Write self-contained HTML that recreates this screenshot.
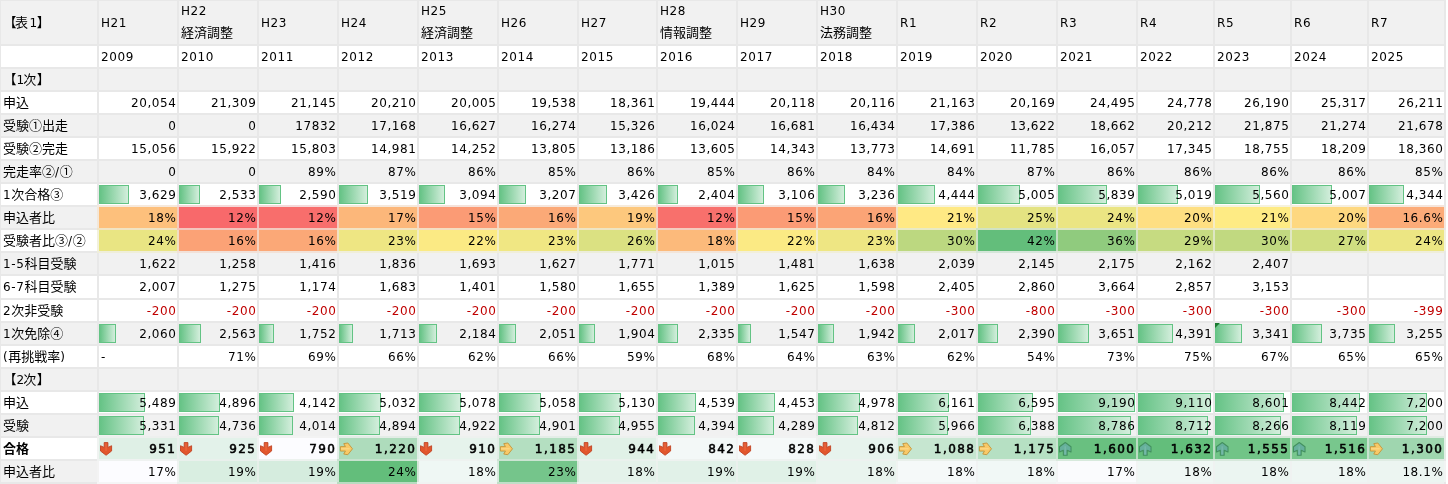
<!DOCTYPE html>
<html lang="ja"><head><meta charset="utf-8"><title>表1</title>
<style>
html,body{margin:0;padding:0;}
body{will-change:transform;width:1448px;height:484px;overflow:hidden;background:#e8e8e8;position:relative;
 font-family:"Liberation Sans","Noto Sans CJK JP",sans-serif;font-size:13px;color:#000;}
.c{position:absolute;overflow:hidden;white-space:nowrap;box-sizing:border-box;}
.g{background:#f1f1f1}.w{background:#fff}
.t{position:absolute;left:0;right:0;white-space:nowrap;line-height:16px;}
.r{text-align:right;padding-right:0.5px;}
.lft{text-align:left;padding-left:2px;}
.l,.n{font-size:12px;letter-spacing:0.6px;font-family:"DejaVu Sans","Liberation Sans",sans-serif;}
.b{font-weight:bold;}
.n.b{font-weight:normal;-webkit-text-stroke:0.55px #000;letter-spacing:1.45px;padding-right:0.6px;}
.bar{position:absolute;box-sizing:border-box;border:1px solid #63c384;background:linear-gradient(90deg,#66c386 0%,#d3eedc 100%);}
.ic{position:absolute;left:0;top:0;}
.tri{position:absolute;left:0;top:0;width:0;height:0;border-top:5px solid #1a7a30;border-right:5px solid transparent;}
</style></head><body>

<div class="c g" style="left:1px;top:1px;width:96px;height:43px"><div class="t lft" style="top:14px;padding-left:2.5px">【<span style="margin-left:-1.5px">表</span><span class="l" style="margin-left:1.5px">1</span><span style="margin-left:-1px">】</span></div></div>
<div class="c g" style="left:99px;top:1px;width:78px;height:43px"><div class="t lft" style="top:14px"><span class="l">H21</span></div></div>
<div class="c g" style="left:179px;top:1px;width:78px;height:43px"><div class="t lft" style="top:2px"><span class="l">H22</span></div><div class="t lft" style="top:24px">経済調整</div></div>
<div class="c g" style="left:259px;top:1px;width:78px;height:43px"><div class="t lft" style="top:14px"><span class="l">H23</span></div></div>
<div class="c g" style="left:339px;top:1px;width:78px;height:43px"><div class="t lft" style="top:14px"><span class="l">H24</span></div></div>
<div class="c g" style="left:419px;top:1px;width:78px;height:43px"><div class="t lft" style="top:2px"><span class="l">H25</span></div><div class="t lft" style="top:24px">経済調整</div></div>
<div class="c g" style="left:499px;top:1px;width:78px;height:43px"><div class="t lft" style="top:14px"><span class="l">H26</span></div></div>
<div class="c g" style="left:579px;top:1px;width:77px;height:43px"><div class="t lft" style="top:14px"><span class="l">H27</span></div></div>
<div class="c g" style="left:658px;top:1px;width:78px;height:43px"><div class="t lft" style="top:2px"><span class="l">H28</span></div><div class="t lft" style="top:24px">情報調整</div></div>
<div class="c g" style="left:738px;top:1px;width:78px;height:43px"><div class="t lft" style="top:14px"><span class="l">H29</span></div></div>
<div class="c g" style="left:818px;top:1px;width:78px;height:43px"><div class="t lft" style="top:2px"><span class="l">H30</span></div><div class="t lft" style="top:24px">法務調整</div></div>
<div class="c g" style="left:898px;top:1px;width:78px;height:43px"><div class="t lft" style="top:14px"><span class="l">R1</span></div></div>
<div class="c g" style="left:978px;top:1px;width:78px;height:43px"><div class="t lft" style="top:14px"><span class="l">R2</span></div></div>
<div class="c g" style="left:1058px;top:1px;width:78px;height:43px"><div class="t lft" style="top:14px"><span class="l">R3</span></div></div>
<div class="c g" style="left:1138px;top:1px;width:75px;height:43px"><div class="t lft" style="top:14px"><span class="l">R4</span></div></div>
<div class="c g" style="left:1215px;top:1px;width:75px;height:43px"><div class="t lft" style="top:14px"><span class="l">R5</span></div></div>
<div class="c g" style="left:1292px;top:1px;width:75px;height:43px"><div class="t lft" style="top:14px"><span class="l">R6</span></div></div>
<div class="c g" style="left:1369px;top:1px;width:75px;height:43px"><div class="t lft" style="top:14px"><span class="l">R7</span></div></div>
<div class="c w" style="left:1px;top:46px;width:96px;height:21px"><div class="t lft" style="top:3px;padding-left:2px"></div></div>
<div class="c w" style="left:99px;top:46px;width:78px;height:21px"><div class="t lft n" style="top:3px">2009</div></div>
<div class="c w" style="left:179px;top:46px;width:78px;height:21px"><div class="t lft n" style="top:3px">2010</div></div>
<div class="c w" style="left:259px;top:46px;width:78px;height:21px"><div class="t lft n" style="top:3px">2011</div></div>
<div class="c w" style="left:339px;top:46px;width:78px;height:21px"><div class="t lft n" style="top:3px">2012</div></div>
<div class="c w" style="left:419px;top:46px;width:78px;height:21px"><div class="t lft n" style="top:3px">2013</div></div>
<div class="c w" style="left:499px;top:46px;width:78px;height:21px"><div class="t lft n" style="top:3px">2014</div></div>
<div class="c w" style="left:579px;top:46px;width:77px;height:21px"><div class="t lft n" style="top:3px">2015</div></div>
<div class="c w" style="left:658px;top:46px;width:78px;height:21px"><div class="t lft n" style="top:3px">2016</div></div>
<div class="c w" style="left:738px;top:46px;width:78px;height:21px"><div class="t lft n" style="top:3px">2017</div></div>
<div class="c w" style="left:818px;top:46px;width:78px;height:21px"><div class="t lft n" style="top:3px">2018</div></div>
<div class="c w" style="left:898px;top:46px;width:78px;height:21px"><div class="t lft n" style="top:3px">2019</div></div>
<div class="c w" style="left:978px;top:46px;width:78px;height:21px"><div class="t lft n" style="top:3px">2020</div></div>
<div class="c w" style="left:1058px;top:46px;width:78px;height:21px"><div class="t lft n" style="top:3px">2021</div></div>
<div class="c w" style="left:1138px;top:46px;width:75px;height:21px"><div class="t lft n" style="top:3px">2022</div></div>
<div class="c w" style="left:1215px;top:46px;width:75px;height:21px"><div class="t lft n" style="top:3px">2023</div></div>
<div class="c w" style="left:1292px;top:46px;width:75px;height:21px"><div class="t lft n" style="top:3px">2024</div></div>
<div class="c w" style="left:1369px;top:46px;width:75px;height:21px"><div class="t lft n" style="top:3px">2025</div></div>
<div class="c g" style="left:1px;top:69px;width:96px;height:21px"><div class="t lft" style="top:3px;padding-left:2.5px">【<span class="l">1</span><span style="margin-left:-1.5px">次</span><span style="margin-left:0.5px">】</span></div></div>
<div class="c g" style="left:99px;top:69px;width:78px;height:21px"></div>
<div class="c g" style="left:179px;top:69px;width:78px;height:21px"></div>
<div class="c g" style="left:259px;top:69px;width:78px;height:21px"></div>
<div class="c g" style="left:339px;top:69px;width:78px;height:21px"></div>
<div class="c g" style="left:419px;top:69px;width:78px;height:21px"></div>
<div class="c g" style="left:499px;top:69px;width:78px;height:21px"></div>
<div class="c g" style="left:579px;top:69px;width:77px;height:21px"></div>
<div class="c g" style="left:658px;top:69px;width:78px;height:21px"></div>
<div class="c g" style="left:738px;top:69px;width:78px;height:21px"></div>
<div class="c g" style="left:818px;top:69px;width:78px;height:21px"></div>
<div class="c g" style="left:898px;top:69px;width:78px;height:21px"></div>
<div class="c g" style="left:978px;top:69px;width:78px;height:21px"></div>
<div class="c g" style="left:1058px;top:69px;width:78px;height:21px"></div>
<div class="c g" style="left:1138px;top:69px;width:75px;height:21px"></div>
<div class="c g" style="left:1215px;top:69px;width:75px;height:21px"></div>
<div class="c g" style="left:1292px;top:69px;width:75px;height:21px"></div>
<div class="c g" style="left:1369px;top:69px;width:75px;height:21px"></div>
<div class="c w" style="left:1px;top:92px;width:96px;height:21px"><div class="t lft" style="top:3px;padding-left:2px">申込</div></div>
<div class="c w" style="left:99px;top:92px;width:78px;height:21px"><div class="t r n" style="top:3px">20,054</div></div>
<div class="c w" style="left:179px;top:92px;width:78px;height:21px"><div class="t r n" style="top:3px">21,309</div></div>
<div class="c w" style="left:259px;top:92px;width:78px;height:21px"><div class="t r n" style="top:3px">21,145</div></div>
<div class="c w" style="left:339px;top:92px;width:78px;height:21px"><div class="t r n" style="top:3px">20,210</div></div>
<div class="c w" style="left:419px;top:92px;width:78px;height:21px"><div class="t r n" style="top:3px">20,005</div></div>
<div class="c w" style="left:499px;top:92px;width:78px;height:21px"><div class="t r n" style="top:3px">19,538</div></div>
<div class="c w" style="left:579px;top:92px;width:77px;height:21px"><div class="t r n" style="top:3px">18,361</div></div>
<div class="c w" style="left:658px;top:92px;width:78px;height:21px"><div class="t r n" style="top:3px">19,444</div></div>
<div class="c w" style="left:738px;top:92px;width:78px;height:21px"><div class="t r n" style="top:3px">20,118</div></div>
<div class="c w" style="left:818px;top:92px;width:78px;height:21px"><div class="t r n" style="top:3px">20,116</div></div>
<div class="c w" style="left:898px;top:92px;width:78px;height:21px"><div class="t r n" style="top:3px">21,163</div></div>
<div class="c w" style="left:978px;top:92px;width:78px;height:21px"><div class="t r n" style="top:3px">20,169</div></div>
<div class="c w" style="left:1058px;top:92px;width:78px;height:21px"><div class="t r n" style="top:3px">24,495</div></div>
<div class="c w" style="left:1138px;top:92px;width:75px;height:21px"><div class="t r n" style="top:3px">24,778</div></div>
<div class="c w" style="left:1215px;top:92px;width:75px;height:21px"><div class="t r n" style="top:3px">26,190</div></div>
<div class="c w" style="left:1292px;top:92px;width:75px;height:21px"><div class="t r n" style="top:3px">25,317</div></div>
<div class="c w" style="left:1369px;top:92px;width:75px;height:21px"><div class="t r n" style="top:3px">26,211</div></div>
<div class="c g" style="left:1px;top:115px;width:96px;height:21px"><div class="t lft" style="top:3px;padding-left:2px">受験①出走</div></div>
<div class="c g" style="left:99px;top:115px;width:78px;height:21px"><div class="t r n" style="top:3px">0</div></div>
<div class="c g" style="left:179px;top:115px;width:78px;height:21px"><div class="t r n" style="top:3px">0</div></div>
<div class="c g" style="left:259px;top:115px;width:78px;height:21px"><div class="t r n" style="top:3px">17832</div></div>
<div class="c g" style="left:339px;top:115px;width:78px;height:21px"><div class="t r n" style="top:3px">17,168</div></div>
<div class="c g" style="left:419px;top:115px;width:78px;height:21px"><div class="t r n" style="top:3px">16,627</div></div>
<div class="c g" style="left:499px;top:115px;width:78px;height:21px"><div class="t r n" style="top:3px">16,274</div></div>
<div class="c g" style="left:579px;top:115px;width:77px;height:21px"><div class="t r n" style="top:3px">15,326</div></div>
<div class="c g" style="left:658px;top:115px;width:78px;height:21px"><div class="t r n" style="top:3px">16,024</div></div>
<div class="c g" style="left:738px;top:115px;width:78px;height:21px"><div class="t r n" style="top:3px">16,681</div></div>
<div class="c g" style="left:818px;top:115px;width:78px;height:21px"><div class="t r n" style="top:3px">16,434</div></div>
<div class="c g" style="left:898px;top:115px;width:78px;height:21px"><div class="t r n" style="top:3px">17,386</div></div>
<div class="c g" style="left:978px;top:115px;width:78px;height:21px"><div class="t r n" style="top:3px">13,622</div></div>
<div class="c g" style="left:1058px;top:115px;width:78px;height:21px"><div class="t r n" style="top:3px">18,662</div></div>
<div class="c g" style="left:1138px;top:115px;width:75px;height:21px"><div class="t r n" style="top:3px">20,212</div></div>
<div class="c g" style="left:1215px;top:115px;width:75px;height:21px"><div class="t r n" style="top:3px">21,875</div></div>
<div class="c g" style="left:1292px;top:115px;width:75px;height:21px"><div class="t r n" style="top:3px">21,274</div></div>
<div class="c g" style="left:1369px;top:115px;width:75px;height:21px"><div class="t r n" style="top:3px">21,678</div></div>
<div class="c w" style="left:1px;top:138px;width:96px;height:21px"><div class="t lft" style="top:3px;padding-left:2px">受験②完走</div></div>
<div class="c w" style="left:99px;top:138px;width:78px;height:21px"><div class="t r n" style="top:3px">15,056</div></div>
<div class="c w" style="left:179px;top:138px;width:78px;height:21px"><div class="t r n" style="top:3px">15,922</div></div>
<div class="c w" style="left:259px;top:138px;width:78px;height:21px"><div class="t r n" style="top:3px">15,803</div></div>
<div class="c w" style="left:339px;top:138px;width:78px;height:21px"><div class="t r n" style="top:3px">14,981</div></div>
<div class="c w" style="left:419px;top:138px;width:78px;height:21px"><div class="t r n" style="top:3px">14,252</div></div>
<div class="c w" style="left:499px;top:138px;width:78px;height:21px"><div class="t r n" style="top:3px">13,805</div></div>
<div class="c w" style="left:579px;top:138px;width:77px;height:21px"><div class="t r n" style="top:3px">13,186</div></div>
<div class="c w" style="left:658px;top:138px;width:78px;height:21px"><div class="t r n" style="top:3px">13,605</div></div>
<div class="c w" style="left:738px;top:138px;width:78px;height:21px"><div class="t r n" style="top:3px">14,343</div></div>
<div class="c w" style="left:818px;top:138px;width:78px;height:21px"><div class="t r n" style="top:3px">13,773</div></div>
<div class="c w" style="left:898px;top:138px;width:78px;height:21px"><div class="t r n" style="top:3px">14,691</div></div>
<div class="c w" style="left:978px;top:138px;width:78px;height:21px"><div class="t r n" style="top:3px">11,785</div></div>
<div class="c w" style="left:1058px;top:138px;width:78px;height:21px"><div class="t r n" style="top:3px">16,057</div></div>
<div class="c w" style="left:1138px;top:138px;width:75px;height:21px"><div class="t r n" style="top:3px">17,345</div></div>
<div class="c w" style="left:1215px;top:138px;width:75px;height:21px"><div class="t r n" style="top:3px">18,755</div></div>
<div class="c w" style="left:1292px;top:138px;width:75px;height:21px"><div class="t r n" style="top:3px">18,209</div></div>
<div class="c w" style="left:1369px;top:138px;width:75px;height:21px"><div class="t r n" style="top:3px">18,360</div></div>
<div class="c g" style="left:1px;top:161px;width:96px;height:21px"><div class="t lft" style="top:3px;padding-left:2px">完走率②<span class="l">/</span>①</div></div>
<div class="c g" style="left:99px;top:161px;width:78px;height:21px"><div class="t r n" style="top:3px">0</div></div>
<div class="c g" style="left:179px;top:161px;width:78px;height:21px"><div class="t r n" style="top:3px">0</div></div>
<div class="c g" style="left:259px;top:161px;width:78px;height:21px"><div class="t r n" style="top:3px">89%</div></div>
<div class="c g" style="left:339px;top:161px;width:78px;height:21px"><div class="t r n" style="top:3px">87%</div></div>
<div class="c g" style="left:419px;top:161px;width:78px;height:21px"><div class="t r n" style="top:3px">86%</div></div>
<div class="c g" style="left:499px;top:161px;width:78px;height:21px"><div class="t r n" style="top:3px">85%</div></div>
<div class="c g" style="left:579px;top:161px;width:77px;height:21px"><div class="t r n" style="top:3px">86%</div></div>
<div class="c g" style="left:658px;top:161px;width:78px;height:21px"><div class="t r n" style="top:3px">85%</div></div>
<div class="c g" style="left:738px;top:161px;width:78px;height:21px"><div class="t r n" style="top:3px">86%</div></div>
<div class="c g" style="left:818px;top:161px;width:78px;height:21px"><div class="t r n" style="top:3px">84%</div></div>
<div class="c g" style="left:898px;top:161px;width:78px;height:21px"><div class="t r n" style="top:3px">84%</div></div>
<div class="c g" style="left:978px;top:161px;width:78px;height:21px"><div class="t r n" style="top:3px">87%</div></div>
<div class="c g" style="left:1058px;top:161px;width:78px;height:21px"><div class="t r n" style="top:3px">86%</div></div>
<div class="c g" style="left:1138px;top:161px;width:75px;height:21px"><div class="t r n" style="top:3px">86%</div></div>
<div class="c g" style="left:1215px;top:161px;width:75px;height:21px"><div class="t r n" style="top:3px">86%</div></div>
<div class="c g" style="left:1292px;top:161px;width:75px;height:21px"><div class="t r n" style="top:3px">86%</div></div>
<div class="c g" style="left:1369px;top:161px;width:75px;height:21px"><div class="t r n" style="top:3px">85%</div></div>
<div class="c w" style="left:1px;top:184px;width:96px;height:21px"><div class="t lft" style="top:3px;padding-left:2px"><span class="l">1</span>次合格③</div></div>
<div class="c w" style="left:99px;top:184px;width:78px;height:21px"><div class="bar" style="left:0;top:1px;width:30px;height:19px"></div><div class="t r n" style="top:3px">3,629</div></div>
<div class="c w" style="left:179px;top:184px;width:78px;height:21px"><div class="bar" style="left:0;top:1px;width:21px;height:19px"></div><div class="t r n" style="top:3px">2,533</div></div>
<div class="c w" style="left:259px;top:184px;width:78px;height:21px"><div class="bar" style="left:0;top:1px;width:22px;height:19px"></div><div class="t r n" style="top:3px">2,590</div></div>
<div class="c w" style="left:339px;top:184px;width:78px;height:21px"><div class="bar" style="left:0;top:1px;width:29px;height:19px"></div><div class="t r n" style="top:3px">3,519</div></div>
<div class="c w" style="left:419px;top:184px;width:78px;height:21px"><div class="bar" style="left:0;top:1px;width:26px;height:19px"></div><div class="t r n" style="top:3px">3,094</div></div>
<div class="c w" style="left:499px;top:184px;width:78px;height:21px"><div class="bar" style="left:0;top:1px;width:27px;height:19px"></div><div class="t r n" style="top:3px">3,207</div></div>
<div class="c w" style="left:579px;top:184px;width:77px;height:21px"><div class="bar" style="left:0;top:1px;width:28px;height:19px"></div><div class="t r n" style="top:3px">3,426</div></div>
<div class="c w" style="left:658px;top:184px;width:78px;height:21px"><div class="bar" style="left:0;top:1px;width:20px;height:19px"></div><div class="t r n" style="top:3px">2,404</div></div>
<div class="c w" style="left:738px;top:184px;width:78px;height:21px"><div class="bar" style="left:0;top:1px;width:26px;height:19px"></div><div class="t r n" style="top:3px">3,106</div></div>
<div class="c w" style="left:818px;top:184px;width:78px;height:21px"><div class="bar" style="left:0;top:1px;width:27px;height:19px"></div><div class="t r n" style="top:3px">3,236</div></div>
<div class="c w" style="left:898px;top:184px;width:78px;height:21px"><div class="bar" style="left:0;top:1px;width:37px;height:19px"></div><div class="t r n" style="top:3px">4,444</div></div>
<div class="c w" style="left:978px;top:184px;width:78px;height:21px"><div class="bar" style="left:0;top:1px;width:42px;height:19px"></div><div class="t r n" style="top:3px">5,005</div></div>
<div class="c w" style="left:1058px;top:184px;width:78px;height:21px"><div class="bar" style="left:0;top:1px;width:49px;height:19px"></div><div class="t r n" style="top:3px">5,839</div></div>
<div class="c w" style="left:1138px;top:184px;width:75px;height:21px"><div class="bar" style="left:0;top:1px;width:40px;height:19px"></div><div class="t r n" style="top:3px">5,019</div></div>
<div class="c w" style="left:1215px;top:184px;width:75px;height:21px"><div class="bar" style="left:0;top:1px;width:45px;height:19px"></div><div class="t r n" style="top:3px">5,560</div></div>
<div class="c w" style="left:1292px;top:184px;width:75px;height:21px"><div class="bar" style="left:0;top:1px;width:40px;height:19px"></div><div class="t r n" style="top:3px">5,007</div></div>
<div class="c w" style="left:1369px;top:184px;width:75px;height:21px"><div class="bar" style="left:0;top:1px;width:35px;height:19px"></div><div class="t r n" style="top:3px">4,344</div></div>
<div class="c g" style="left:1px;top:207px;width:96px;height:21px"><div class="t lft" style="top:3px;padding-left:2px">申込者比</div></div>
<div class="c g" style="left:99px;top:207px;width:78px;height:21px;background:#fdc07c"><div class="t r n" style="top:3px">18%</div></div>
<div class="c g" style="left:179px;top:207px;width:78px;height:21px;background:#f8696b"><div class="t r n" style="top:3px">12%</div></div>
<div class="c g" style="left:259px;top:207px;width:78px;height:21px;background:#f86e6c"><div class="t r n" style="top:3px">12%</div></div>
<div class="c g" style="left:339px;top:207px;width:78px;height:21px;background:#fcb77a"><div class="t r n" style="top:3px">17%</div></div>
<div class="c g" style="left:419px;top:207px;width:78px;height:21px;background:#fb9b75"><div class="t r n" style="top:3px">15%</div></div>
<div class="c g" style="left:499px;top:207px;width:78px;height:21px;background:#fba977"><div class="t r n" style="top:3px">16%</div></div>
<div class="c g" style="left:579px;top:207px;width:77px;height:21px;background:#fdc87d"><div class="t r n" style="top:3px">19%</div></div>
<div class="c g" style="left:658px;top:207px;width:78px;height:21px;background:#f8706c"><div class="t r n" style="top:3px">12%</div></div>
<div class="c g" style="left:738px;top:207px;width:78px;height:21px;background:#fb9b75"><div class="t r n" style="top:3px">15%</div></div>
<div class="c g" style="left:818px;top:207px;width:78px;height:21px;background:#fba476"><div class="t r n" style="top:3px">16%</div></div>
<div class="c g" style="left:898px;top:207px;width:78px;height:21px;background:#ffe984"><div class="t r n" style="top:3px">21%</div></div>
<div class="c g" style="left:978px;top:207px;width:78px;height:21px;background:#e4e382"><div class="t r n" style="top:3px">25%</div></div>
<div class="c g" style="left:1058px;top:207px;width:78px;height:21px;background:#ebe583"><div class="t r n" style="top:3px">24%</div></div>
<div class="c g" style="left:1138px;top:207px;width:75px;height:21px;background:#fedf82"><div class="t r n" style="top:3px">20%</div></div>
<div class="c g" style="left:1215px;top:207px;width:75px;height:21px;background:#feeb84"><div class="t r n" style="top:3px">21%</div></div>
<div class="c g" style="left:1292px;top:207px;width:75px;height:21px;background:#fed880"><div class="t r n" style="top:3px">20%</div></div>
<div class="c g" style="left:1369px;top:207px;width:75px;height:21px;background:#fcab78"><div class="t r n" style="top:3px">16.6%</div></div>
<div class="c w" style="left:1px;top:230px;width:96px;height:21px"><div class="t lft" style="top:3px;padding-left:2px">受験者比③<span class="l">/</span>②</div></div>
<div class="c w" style="left:99px;top:230px;width:78px;height:21px;background:#e9e583"><div class="t r n" style="top:3px">24%</div></div>
<div class="c w" style="left:179px;top:230px;width:78px;height:21px;background:#fba276"><div class="t r n" style="top:3px">16%</div></div>
<div class="c w" style="left:259px;top:230px;width:78px;height:21px;background:#fba877"><div class="t r n" style="top:3px">16%</div></div>
<div class="c w" style="left:339px;top:230px;width:78px;height:21px;background:#eee683"><div class="t r n" style="top:3px">23%</div></div>
<div class="c w" style="left:419px;top:230px;width:78px;height:21px;background:#fbea84"><div class="t r n" style="top:3px">22%</div></div>
<div class="c w" style="left:499px;top:230px;width:78px;height:21px;background:#f0e783"><div class="t r n" style="top:3px">23%</div></div>
<div class="c w" style="left:579px;top:230px;width:77px;height:21px;background:#dbe182"><div class="t r n" style="top:3px">26%</div></div>
<div class="c w" style="left:658px;top:230px;width:78px;height:21px;background:#fcba7b"><div class="t r n" style="top:3px">18%</div></div>
<div class="c w" style="left:738px;top:230px;width:78px;height:21px;background:#fbea84"><div class="t r n" style="top:3px">22%</div></div>
<div class="c w" style="left:818px;top:230px;width:78px;height:21px;background:#eee683"><div class="t r n" style="top:3px">23%</div></div>
<div class="c w" style="left:898px;top:230px;width:78px;height:21px;background:#bcd880"><div class="t r n" style="top:3px">30%</div></div>
<div class="c w" style="left:978px;top:230px;width:78px;height:21px;background:#63be7b"><div class="t r n" style="top:3px">42%</div></div>
<div class="c w" style="left:1058px;top:230px;width:78px;height:21px;background:#90cb7e"><div class="t r n" style="top:3px">36%</div></div>
<div class="c w" style="left:1138px;top:230px;width:75px;height:21px;background:#c6db81"><div class="t r n" style="top:3px">29%</div></div>
<div class="c w" style="left:1215px;top:230px;width:75px;height:21px;background:#c1d980"><div class="t r n" style="top:3px">30%</div></div>
<div class="c w" style="left:1292px;top:230px;width:75px;height:21px;background:#d0de81"><div class="t r n" style="top:3px">27%</div></div>
<div class="c w" style="left:1369px;top:230px;width:75px;height:21px;background:#ece683"><div class="t r n" style="top:3px">24%</div></div>
<div class="c g" style="left:1px;top:253px;width:96px;height:21px"><div class="t lft" style="top:3px;padding-left:2px"><span class="l">1-5</span>科目受験</div></div>
<div class="c g" style="left:99px;top:253px;width:78px;height:21px"><div class="t r n" style="top:3px">1,622</div></div>
<div class="c g" style="left:179px;top:253px;width:78px;height:21px"><div class="t r n" style="top:3px">1,258</div></div>
<div class="c g" style="left:259px;top:253px;width:78px;height:21px"><div class="t r n" style="top:3px">1,416</div></div>
<div class="c g" style="left:339px;top:253px;width:78px;height:21px"><div class="t r n" style="top:3px">1,836</div></div>
<div class="c g" style="left:419px;top:253px;width:78px;height:21px"><div class="t r n" style="top:3px">1,693</div></div>
<div class="c g" style="left:499px;top:253px;width:78px;height:21px"><div class="t r n" style="top:3px">1,627</div></div>
<div class="c g" style="left:579px;top:253px;width:77px;height:21px"><div class="t r n" style="top:3px">1,771</div></div>
<div class="c g" style="left:658px;top:253px;width:78px;height:21px"><div class="t r n" style="top:3px">1,015</div></div>
<div class="c g" style="left:738px;top:253px;width:78px;height:21px"><div class="t r n" style="top:3px">1,481</div></div>
<div class="c g" style="left:818px;top:253px;width:78px;height:21px"><div class="t r n" style="top:3px">1,638</div></div>
<div class="c g" style="left:898px;top:253px;width:78px;height:21px"><div class="t r n" style="top:3px">2,039</div></div>
<div class="c g" style="left:978px;top:253px;width:78px;height:21px"><div class="t r n" style="top:3px">2,145</div></div>
<div class="c g" style="left:1058px;top:253px;width:78px;height:21px"><div class="t r n" style="top:3px">2,175</div></div>
<div class="c g" style="left:1138px;top:253px;width:75px;height:21px"><div class="t r n" style="top:3px">2,162</div></div>
<div class="c g" style="left:1215px;top:253px;width:75px;height:21px"><div class="t r n" style="top:3px">2,407</div></div>
<div class="c g" style="left:1292px;top:253px;width:75px;height:21px"></div>
<div class="c g" style="left:1369px;top:253px;width:75px;height:21px"></div>
<div class="c w" style="left:1px;top:276px;width:96px;height:22px"><div class="t lft" style="top:3px;padding-left:2px"><span class="l">6-7</span>科目受験</div></div>
<div class="c w" style="left:99px;top:276px;width:78px;height:22px"><div class="t r n" style="top:3px">2,007</div></div>
<div class="c w" style="left:179px;top:276px;width:78px;height:22px"><div class="t r n" style="top:3px">1,275</div></div>
<div class="c w" style="left:259px;top:276px;width:78px;height:22px"><div class="t r n" style="top:3px">1,174</div></div>
<div class="c w" style="left:339px;top:276px;width:78px;height:22px"><div class="t r n" style="top:3px">1,683</div></div>
<div class="c w" style="left:419px;top:276px;width:78px;height:22px"><div class="t r n" style="top:3px">1,401</div></div>
<div class="c w" style="left:499px;top:276px;width:78px;height:22px"><div class="t r n" style="top:3px">1,580</div></div>
<div class="c w" style="left:579px;top:276px;width:77px;height:22px"><div class="t r n" style="top:3px">1,655</div></div>
<div class="c w" style="left:658px;top:276px;width:78px;height:22px"><div class="t r n" style="top:3px">1,389</div></div>
<div class="c w" style="left:738px;top:276px;width:78px;height:22px"><div class="t r n" style="top:3px">1,625</div></div>
<div class="c w" style="left:818px;top:276px;width:78px;height:22px"><div class="t r n" style="top:3px">1,598</div></div>
<div class="c w" style="left:898px;top:276px;width:78px;height:22px"><div class="t r n" style="top:3px">2,405</div></div>
<div class="c w" style="left:978px;top:276px;width:78px;height:22px"><div class="t r n" style="top:3px">2,860</div></div>
<div class="c w" style="left:1058px;top:276px;width:78px;height:22px"><div class="t r n" style="top:3px">3,664</div></div>
<div class="c w" style="left:1138px;top:276px;width:75px;height:22px"><div class="t r n" style="top:3px">2,857</div></div>
<div class="c w" style="left:1215px;top:276px;width:75px;height:22px"><div class="t r n" style="top:3px">3,153</div></div>
<div class="c w" style="left:1292px;top:276px;width:75px;height:22px"></div>
<div class="c w" style="left:1369px;top:276px;width:75px;height:22px"></div>
<div class="c w" style="left:1px;top:300px;width:96px;height:21px"><div class="t lft" style="top:3px;padding-left:2px"><span class="l">2</span>次非受験</div></div>
<div class="c w" style="left:99px;top:300px;width:78px;height:21px"><div class="t r n" style="top:3px;color:#c00000">-200</div></div>
<div class="c w" style="left:179px;top:300px;width:78px;height:21px"><div class="t r n" style="top:3px;color:#c00000">-200</div></div>
<div class="c w" style="left:259px;top:300px;width:78px;height:21px"><div class="t r n" style="top:3px;color:#c00000">-200</div></div>
<div class="c w" style="left:339px;top:300px;width:78px;height:21px"><div class="t r n" style="top:3px;color:#c00000">-200</div></div>
<div class="c w" style="left:419px;top:300px;width:78px;height:21px"><div class="t r n" style="top:3px;color:#c00000">-200</div></div>
<div class="c w" style="left:499px;top:300px;width:78px;height:21px"><div class="t r n" style="top:3px;color:#c00000">-200</div></div>
<div class="c w" style="left:579px;top:300px;width:77px;height:21px"><div class="t r n" style="top:3px;color:#c00000">-200</div></div>
<div class="c w" style="left:658px;top:300px;width:78px;height:21px"><div class="t r n" style="top:3px;color:#c00000">-200</div></div>
<div class="c w" style="left:738px;top:300px;width:78px;height:21px"><div class="t r n" style="top:3px;color:#c00000">-200</div></div>
<div class="c w" style="left:818px;top:300px;width:78px;height:21px"><div class="t r n" style="top:3px;color:#c00000">-200</div></div>
<div class="c w" style="left:898px;top:300px;width:78px;height:21px"><div class="t r n" style="top:3px;color:#c00000">-300</div></div>
<div class="c w" style="left:978px;top:300px;width:78px;height:21px"><div class="t r n" style="top:3px;color:#c00000">-800</div></div>
<div class="c w" style="left:1058px;top:300px;width:78px;height:21px"><div class="t r n" style="top:3px;color:#c00000">-300</div></div>
<div class="c w" style="left:1138px;top:300px;width:75px;height:21px"><div class="t r n" style="top:3px;color:#c00000">-300</div></div>
<div class="c w" style="left:1215px;top:300px;width:75px;height:21px"><div class="t r n" style="top:3px;color:#c00000">-300</div></div>
<div class="c w" style="left:1292px;top:300px;width:75px;height:21px"><div class="t r n" style="top:3px;color:#c00000">-300</div></div>
<div class="c w" style="left:1369px;top:300px;width:75px;height:21px"><div class="t r n" style="top:3px;color:#c00000">-399</div></div>
<div class="c g" style="left:1px;top:323px;width:96px;height:21px"><div class="t lft" style="top:3px;padding-left:2px"><span class="l">1</span>次免除④</div></div>
<div class="c g" style="left:99px;top:323px;width:78px;height:21px"><div class="bar" style="left:0;top:1px;width:17px;height:19px"></div><div class="t r n" style="top:3px">2,060</div></div>
<div class="c g" style="left:179px;top:323px;width:78px;height:21px"><div class="bar" style="left:0;top:1px;width:22px;height:19px"></div><div class="t r n" style="top:3px">2,563</div></div>
<div class="c g" style="left:259px;top:323px;width:78px;height:21px"><div class="bar" style="left:0;top:1px;width:15px;height:19px"></div><div class="t r n" style="top:3px">1,752</div></div>
<div class="c g" style="left:339px;top:323px;width:78px;height:21px"><div class="bar" style="left:0;top:1px;width:14px;height:19px"></div><div class="t r n" style="top:3px">1,713</div></div>
<div class="c g" style="left:419px;top:323px;width:78px;height:21px"><div class="bar" style="left:0;top:1px;width:18px;height:19px"></div><div class="t r n" style="top:3px">2,184</div></div>
<div class="c g" style="left:499px;top:323px;width:78px;height:21px"><div class="bar" style="left:0;top:1px;width:17px;height:19px"></div><div class="t r n" style="top:3px">2,051</div></div>
<div class="c g" style="left:579px;top:323px;width:77px;height:21px"><div class="bar" style="left:0;top:1px;width:16px;height:19px"></div><div class="t r n" style="top:3px">1,904</div></div>
<div class="c g" style="left:658px;top:323px;width:78px;height:21px"><div class="bar" style="left:0;top:1px;width:20px;height:19px"></div><div class="t r n" style="top:3px">2,335</div></div>
<div class="c g" style="left:738px;top:323px;width:78px;height:21px"><div class="bar" style="left:0;top:1px;width:13px;height:19px"></div><div class="t r n" style="top:3px">1,547</div></div>
<div class="c g" style="left:818px;top:323px;width:78px;height:21px"><div class="bar" style="left:0;top:1px;width:16px;height:19px"></div><div class="t r n" style="top:3px">1,942</div></div>
<div class="c g" style="left:898px;top:323px;width:78px;height:21px"><div class="bar" style="left:0;top:1px;width:17px;height:19px"></div><div class="t r n" style="top:3px">2,017</div></div>
<div class="c g" style="left:978px;top:323px;width:78px;height:21px"><div class="bar" style="left:0;top:1px;width:20px;height:19px"></div><div class="t r n" style="top:3px">2,390</div></div>
<div class="c g" style="left:1058px;top:323px;width:78px;height:21px"><div class="bar" style="left:0;top:1px;width:31px;height:19px"></div><div class="t r n" style="top:3px">3,651</div></div>
<div class="c g" style="left:1138px;top:323px;width:75px;height:21px"><div class="bar" style="left:0;top:1px;width:35px;height:19px"></div><div class="t r n" style="top:3px">4,391</div></div>
<div class="c g" style="left:1215px;top:323px;width:75px;height:21px"><div class="bar" style="left:0;top:1px;width:27px;height:19px"></div><div class="tri"></div><div class="t r n" style="top:3px">3,341</div></div>
<div class="c g" style="left:1292px;top:323px;width:75px;height:21px"><div class="bar" style="left:0;top:1px;width:30px;height:19px"></div><div class="t r n" style="top:3px">3,735</div></div>
<div class="c g" style="left:1369px;top:323px;width:75px;height:21px"><div class="bar" style="left:0;top:1px;width:26px;height:19px"></div><div class="t r n" style="top:3px">3,255</div></div>
<div class="c w" style="left:1px;top:346px;width:96px;height:21px"><div class="t lft" style="top:3px;padding-left:2px"><span class="l">(</span>再挑戦率<span class="l">)</span></div></div>
<div class="c w" style="left:99px;top:346px;width:78px;height:21px"><div class="t lft n" style="top:3px">-</div></div>
<div class="c w" style="left:179px;top:346px;width:78px;height:21px"><div class="t r n" style="top:3px">71%</div></div>
<div class="c w" style="left:259px;top:346px;width:78px;height:21px"><div class="t r n" style="top:3px">69%</div></div>
<div class="c w" style="left:339px;top:346px;width:78px;height:21px"><div class="t r n" style="top:3px">66%</div></div>
<div class="c w" style="left:419px;top:346px;width:78px;height:21px"><div class="t r n" style="top:3px">62%</div></div>
<div class="c w" style="left:499px;top:346px;width:78px;height:21px"><div class="t r n" style="top:3px">66%</div></div>
<div class="c w" style="left:579px;top:346px;width:77px;height:21px"><div class="t r n" style="top:3px">59%</div></div>
<div class="c w" style="left:658px;top:346px;width:78px;height:21px"><div class="t r n" style="top:3px">68%</div></div>
<div class="c w" style="left:738px;top:346px;width:78px;height:21px"><div class="t r n" style="top:3px">64%</div></div>
<div class="c w" style="left:818px;top:346px;width:78px;height:21px"><div class="t r n" style="top:3px">63%</div></div>
<div class="c w" style="left:898px;top:346px;width:78px;height:21px"><div class="t r n" style="top:3px">62%</div></div>
<div class="c w" style="left:978px;top:346px;width:78px;height:21px"><div class="t r n" style="top:3px">54%</div></div>
<div class="c w" style="left:1058px;top:346px;width:78px;height:21px"><div class="t r n" style="top:3px">73%</div></div>
<div class="c w" style="left:1138px;top:346px;width:75px;height:21px"><div class="t r n" style="top:3px">75%</div></div>
<div class="c w" style="left:1215px;top:346px;width:75px;height:21px"><div class="t r n" style="top:3px">67%</div></div>
<div class="c w" style="left:1292px;top:346px;width:75px;height:21px"><div class="t r n" style="top:3px">65%</div></div>
<div class="c w" style="left:1369px;top:346px;width:75px;height:21px"><div class="t r n" style="top:3px">65%</div></div>
<div class="c g" style="left:1px;top:369px;width:96px;height:21px"><div class="t lft" style="top:3px;padding-left:2.5px">【<span class="l">2</span><span style="margin-left:-1.5px">次</span><span style="margin-left:0.5px">】</span></div></div>
<div class="c g" style="left:99px;top:369px;width:78px;height:21px"></div>
<div class="c g" style="left:179px;top:369px;width:78px;height:21px"></div>
<div class="c g" style="left:259px;top:369px;width:78px;height:21px"></div>
<div class="c g" style="left:339px;top:369px;width:78px;height:21px"></div>
<div class="c g" style="left:419px;top:369px;width:78px;height:21px"></div>
<div class="c g" style="left:499px;top:369px;width:78px;height:21px"></div>
<div class="c g" style="left:579px;top:369px;width:77px;height:21px"></div>
<div class="c g" style="left:658px;top:369px;width:78px;height:21px"></div>
<div class="c g" style="left:738px;top:369px;width:78px;height:21px"></div>
<div class="c g" style="left:818px;top:369px;width:78px;height:21px"></div>
<div class="c g" style="left:898px;top:369px;width:78px;height:21px"></div>
<div class="c g" style="left:978px;top:369px;width:78px;height:21px"></div>
<div class="c g" style="left:1058px;top:369px;width:78px;height:21px"></div>
<div class="c g" style="left:1138px;top:369px;width:75px;height:21px"></div>
<div class="c g" style="left:1215px;top:369px;width:75px;height:21px"></div>
<div class="c g" style="left:1292px;top:369px;width:75px;height:21px"></div>
<div class="c g" style="left:1369px;top:369px;width:75px;height:21px"></div>
<div class="c w" style="left:1px;top:392px;width:96px;height:21px"><div class="t lft" style="top:3px;padding-left:2px">申込</div></div>
<div class="c w" style="left:99px;top:392px;width:78px;height:21px"><div class="bar" style="left:0;top:1px;width:46px;height:19px"></div><div class="t r n" style="top:3px">5,489</div></div>
<div class="c w" style="left:179px;top:392px;width:78px;height:21px"><div class="bar" style="left:0;top:1px;width:41px;height:19px"></div><div class="t r n" style="top:3px">4,896</div></div>
<div class="c w" style="left:259px;top:392px;width:78px;height:21px"><div class="bar" style="left:0;top:1px;width:35px;height:19px"></div><div class="t r n" style="top:3px">4,142</div></div>
<div class="c w" style="left:339px;top:392px;width:78px;height:21px"><div class="bar" style="left:0;top:1px;width:42px;height:19px"></div><div class="t r n" style="top:3px">5,032</div></div>
<div class="c w" style="left:419px;top:392px;width:78px;height:21px"><div class="bar" style="left:0;top:1px;width:42px;height:19px"></div><div class="t r n" style="top:3px">5,078</div></div>
<div class="c w" style="left:499px;top:392px;width:78px;height:21px"><div class="bar" style="left:0;top:1px;width:42px;height:19px"></div><div class="t r n" style="top:3px">5,058</div></div>
<div class="c w" style="left:579px;top:392px;width:77px;height:21px"><div class="bar" style="left:0;top:1px;width:42px;height:19px"></div><div class="t r n" style="top:3px">5,130</div></div>
<div class="c w" style="left:658px;top:392px;width:78px;height:21px"><div class="bar" style="left:0;top:1px;width:38px;height:19px"></div><div class="t r n" style="top:3px">4,539</div></div>
<div class="c w" style="left:738px;top:392px;width:78px;height:21px"><div class="bar" style="left:0;top:1px;width:37px;height:19px"></div><div class="t r n" style="top:3px">4,453</div></div>
<div class="c w" style="left:818px;top:392px;width:78px;height:21px"><div class="bar" style="left:0;top:1px;width:42px;height:19px"></div><div class="t r n" style="top:3px">4,978</div></div>
<div class="c w" style="left:898px;top:392px;width:78px;height:21px"><div class="bar" style="left:0;top:1px;width:51px;height:19px"></div><div class="t r n" style="top:3px">6,161</div></div>
<div class="c w" style="left:978px;top:392px;width:78px;height:21px"><div class="bar" style="left:0;top:1px;width:55px;height:19px"></div><div class="t r n" style="top:3px">6,595</div></div>
<div class="c w" style="left:1058px;top:392px;width:78px;height:21px"><div class="bar" style="left:0;top:1px;width:77px;height:19px"></div><div class="t r n" style="top:3px">9,190</div></div>
<div class="c w" style="left:1138px;top:392px;width:75px;height:21px"><div class="bar" style="left:0;top:1px;width:73px;height:19px"></div><div class="t r n" style="top:3px">9,110</div></div>
<div class="c w" style="left:1215px;top:392px;width:75px;height:21px"><div class="bar" style="left:0;top:1px;width:69px;height:19px"></div><div class="t r n" style="top:3px">8,601</div></div>
<div class="c w" style="left:1292px;top:392px;width:75px;height:21px"><div class="bar" style="left:0;top:1px;width:68px;height:19px"></div><div class="t r n" style="top:3px">8,442</div></div>
<div class="c w" style="left:1369px;top:392px;width:75px;height:21px"><div class="bar" style="left:0;top:1px;width:58px;height:19px"></div><div class="t r n" style="top:3px">7,200</div></div>
<div class="c g" style="left:1px;top:415px;width:96px;height:21px"><div class="t lft" style="top:3px;padding-left:2px">受験</div></div>
<div class="c g" style="left:99px;top:415px;width:78px;height:21px"><div class="bar" style="left:0;top:1px;width:45px;height:19px"></div><div class="t r n" style="top:3px">5,331</div></div>
<div class="c g" style="left:179px;top:415px;width:78px;height:21px"><div class="bar" style="left:0;top:1px;width:40px;height:19px"></div><div class="t r n" style="top:3px">4,736</div></div>
<div class="c g" style="left:259px;top:415px;width:78px;height:21px"><div class="bar" style="left:0;top:1px;width:34px;height:19px"></div><div class="t r n" style="top:3px">4,014</div></div>
<div class="c g" style="left:339px;top:415px;width:78px;height:21px"><div class="bar" style="left:0;top:1px;width:41px;height:19px"></div><div class="t r n" style="top:3px">4,894</div></div>
<div class="c g" style="left:419px;top:415px;width:78px;height:21px"><div class="bar" style="left:0;top:1px;width:41px;height:19px"></div><div class="t r n" style="top:3px">4,922</div></div>
<div class="c g" style="left:499px;top:415px;width:78px;height:21px"><div class="bar" style="left:0;top:1px;width:41px;height:19px"></div><div class="t r n" style="top:3px">4,901</div></div>
<div class="c g" style="left:579px;top:415px;width:77px;height:21px"><div class="bar" style="left:0;top:1px;width:41px;height:19px"></div><div class="t r n" style="top:3px">4,955</div></div>
<div class="c g" style="left:658px;top:415px;width:78px;height:21px"><div class="bar" style="left:0;top:1px;width:37px;height:19px"></div><div class="t r n" style="top:3px">4,394</div></div>
<div class="c g" style="left:738px;top:415px;width:78px;height:21px"><div class="bar" style="left:0;top:1px;width:36px;height:19px"></div><div class="t r n" style="top:3px">4,289</div></div>
<div class="c g" style="left:818px;top:415px;width:78px;height:21px"><div class="bar" style="left:0;top:1px;width:40px;height:19px"></div><div class="t r n" style="top:3px">4,812</div></div>
<div class="c g" style="left:898px;top:415px;width:78px;height:21px"><div class="bar" style="left:0;top:1px;width:50px;height:19px"></div><div class="t r n" style="top:3px">5,966</div></div>
<div class="c g" style="left:978px;top:415px;width:78px;height:21px"><div class="bar" style="left:0;top:1px;width:53px;height:19px"></div><div class="t r n" style="top:3px">6,388</div></div>
<div class="c g" style="left:1058px;top:415px;width:78px;height:21px"><div class="bar" style="left:0;top:1px;width:73px;height:19px"></div><div class="t r n" style="top:3px">8,786</div></div>
<div class="c g" style="left:1138px;top:415px;width:75px;height:21px"><div class="bar" style="left:0;top:1px;width:70px;height:19px"></div><div class="t r n" style="top:3px">8,712</div></div>
<div class="c g" style="left:1215px;top:415px;width:75px;height:21px"><div class="bar" style="left:0;top:1px;width:66px;height:19px"></div><div class="t r n" style="top:3px">8,266</div></div>
<div class="c g" style="left:1292px;top:415px;width:75px;height:21px"><div class="bar" style="left:0;top:1px;width:65px;height:19px"></div><div class="t r n" style="top:3px">8,119</div></div>
<div class="c g" style="left:1369px;top:415px;width:75px;height:21px"><div class="bar" style="left:0;top:1px;width:58px;height:19px"></div><div class="t r n" style="top:3px">7,200</div></div>
<div class="c w" style="left:1px;top:438px;width:96px;height:21px"><div class="t lft b" style="top:3px;padding-left:2px">合格</div></div>
<div class="c w" style="left:99px;top:438px;width:78px;height:21px;background:#dff0e6"><svg class="ic" width="16" height="21" viewBox="0 0 16 21"><g transform="translate(1.5 4.6) scale(0.925 0.93)"><path d="M4 0H8V5.2L12 3.4V9L6 13.6L0 9V3.4L4 5.2Z" fill="#e2562c" stroke="#c04526" stroke-width="1" stroke-linejoin="round"/><path d="M5.2 0.6H6.8V9H5.2Z" fill="#ee7046" opacity="0.6"/></g></svg><div class="t r n b" style="top:3px">951</div></div>
<div class="c w" style="left:179px;top:438px;width:78px;height:21px;background:#e3f2ea"><svg class="ic" width="16" height="21" viewBox="0 0 16 21"><g transform="translate(1.5 4.6) scale(0.925 0.93)"><path d="M4 0H8V5.2L12 3.4V9L6 13.6L0 9V3.4L4 5.2Z" fill="#e2562c" stroke="#c04526" stroke-width="1" stroke-linejoin="round"/><path d="M5.2 0.6H6.8V9H5.2Z" fill="#ee7046" opacity="0.6"/></g></svg><div class="t r n b" style="top:3px">925</div></div>
<div class="c w" style="left:259px;top:438px;width:78px;height:21px;background:#fcfcff"><svg class="ic" width="16" height="21" viewBox="0 0 16 21"><g transform="translate(1.5 4.6) scale(0.925 0.93)"><path d="M4 0H8V5.2L12 3.4V9L6 13.6L0 9V3.4L4 5.2Z" fill="#e2562c" stroke="#c04526" stroke-width="1" stroke-linejoin="round"/><path d="M5.2 0.6H6.8V9H5.2Z" fill="#ee7046" opacity="0.6"/></g></svg><div class="t r n b" style="top:3px">790</div></div>
<div class="c w" style="left:339px;top:438px;width:78px;height:21px;background:#aedcbc"><svg class="ic" width="16" height="21" viewBox="0 0 16 21"><g transform="translate(1.4 4.8) scale(0.93 0.93)"><path d="M0 4.1H5.4L3.6 0.9L8 0.2L13 6.5L8 12.8L3.6 12.1L5.4 8.9H0Z" fill="#f9c968" stroke="#c2973e" stroke-width="1" stroke-linejoin="round"/><path d="M0.6 5.6H10V7.2H0.6Z" fill="#fddc8c" opacity="0.7"/></g></svg><div class="t r n b" style="top:3px">1,220</div></div>
<div class="c w" style="left:419px;top:438px;width:78px;height:21px;background:#e6f3ec"><svg class="ic" width="16" height="21" viewBox="0 0 16 21"><g transform="translate(1.5 4.6) scale(0.925 0.93)"><path d="M4 0H8V5.2L12 3.4V9L6 13.6L0 9V3.4L4 5.2Z" fill="#e2562c" stroke="#c04526" stroke-width="1" stroke-linejoin="round"/><path d="M5.2 0.6H6.8V9H5.2Z" fill="#ee7046" opacity="0.6"/></g></svg><div class="t r n b" style="top:3px">910</div></div>
<div class="c w" style="left:499px;top:438px;width:78px;height:21px;background:#b4dfc1"><svg class="ic" width="16" height="21" viewBox="0 0 16 21"><g transform="translate(1.4 4.8) scale(0.93 0.93)"><path d="M0 4.1H5.4L3.6 0.9L8 0.2L13 6.5L8 12.8L3.6 12.1L5.4 8.9H0Z" fill="#f9c968" stroke="#c2973e" stroke-width="1" stroke-linejoin="round"/><path d="M0.6 5.6H10V7.2H0.6Z" fill="#fddc8c" opacity="0.7"/></g></svg><div class="t r n b" style="top:3px">1,185</div></div>
<div class="c w" style="left:579px;top:438px;width:77px;height:21px;background:#e0f1e7"><svg class="ic" width="16" height="21" viewBox="0 0 16 21"><g transform="translate(1.5 4.6) scale(0.925 0.93)"><path d="M4 0H8V5.2L12 3.4V9L6 13.6L0 9V3.4L4 5.2Z" fill="#e2562c" stroke="#c04526" stroke-width="1" stroke-linejoin="round"/><path d="M5.2 0.6H6.8V9H5.2Z" fill="#ee7046" opacity="0.6"/></g></svg><div class="t r n b" style="top:3px">944</div></div>
<div class="c w" style="left:658px;top:438px;width:78px;height:21px;background:#f3f8f7"><svg class="ic" width="16" height="21" viewBox="0 0 16 21"><g transform="translate(1.5 4.6) scale(0.925 0.93)"><path d="M4 0H8V5.2L12 3.4V9L6 13.6L0 9V3.4L4 5.2Z" fill="#e2562c" stroke="#c04526" stroke-width="1" stroke-linejoin="round"/><path d="M5.2 0.6H6.8V9H5.2Z" fill="#ee7046" opacity="0.6"/></g></svg><div class="t r n b" style="top:3px">842</div></div>
<div class="c w" style="left:738px;top:438px;width:78px;height:21px;background:#f5f9f9"><svg class="ic" width="16" height="21" viewBox="0 0 16 21"><g transform="translate(1.5 4.6) scale(0.925 0.93)"><path d="M4 0H8V5.2L12 3.4V9L6 13.6L0 9V3.4L4 5.2Z" fill="#e2562c" stroke="#c04526" stroke-width="1" stroke-linejoin="round"/><path d="M5.2 0.6H6.8V9H5.2Z" fill="#ee7046" opacity="0.6"/></g></svg><div class="t r n b" style="top:3px">828</div></div>
<div class="c w" style="left:818px;top:438px;width:78px;height:21px;background:#e7f3ed"><svg class="ic" width="16" height="21" viewBox="0 0 16 21"><g transform="translate(1.5 4.6) scale(0.925 0.93)"><path d="M4 0H8V5.2L12 3.4V9L6 13.6L0 9V3.4L4 5.2Z" fill="#e2562c" stroke="#c04526" stroke-width="1" stroke-linejoin="round"/><path d="M5.2 0.6H6.8V9H5.2Z" fill="#ee7046" opacity="0.6"/></g></svg><div class="t r n b" style="top:3px">906</div></div>
<div class="c w" style="left:898px;top:438px;width:78px;height:21px;background:#c6e6d0"><svg class="ic" width="16" height="21" viewBox="0 0 16 21"><g transform="translate(1.4 4.8) scale(0.93 0.93)"><path d="M0 4.1H5.4L3.6 0.9L8 0.2L13 6.5L8 12.8L3.6 12.1L5.4 8.9H0Z" fill="#f9c968" stroke="#c2973e" stroke-width="1" stroke-linejoin="round"/><path d="M0.6 5.6H10V7.2H0.6Z" fill="#fddc8c" opacity="0.7"/></g></svg><div class="t r n b" style="top:3px">1,088</div></div>
<div class="c w" style="left:978px;top:438px;width:78px;height:21px;background:#b6e0c3"><svg class="ic" width="16" height="21" viewBox="0 0 16 21"><g transform="translate(1.4 4.8) scale(0.93 0.93)"><path d="M0 4.1H5.4L3.6 0.9L8 0.2L13 6.5L8 12.8L3.6 12.1L5.4 8.9H0Z" fill="#f9c968" stroke="#c2973e" stroke-width="1" stroke-linejoin="round"/><path d="M0.6 5.6H10V7.2H0.6Z" fill="#fddc8c" opacity="0.7"/></g></svg><div class="t r n b" style="top:3px">1,175</div></div>
<div class="c w" style="left:1058px;top:438px;width:78px;height:21px;background:#69c080"><svg class="ic" width="16" height="21" viewBox="0 0 16 21"><g transform="translate(1.5 4.5) scale(0.96 0.93)"><path d="M4 13.6H8V8.4L12 10.2V4.6L6 0L0 4.6V10.2L4 8.4Z" fill="#66b09c" stroke="#43905f" stroke-width="1.1" stroke-linejoin="round"/><path d="M5.2 4H6.8V13H5.2Z" fill="#7dbcae" opacity="0.7"/></g></svg><div class="t r n b" style="top:3px">1,600</div></div>
<div class="c w" style="left:1138px;top:438px;width:75px;height:21px;background:#63be7b"><svg class="ic" width="16" height="21" viewBox="0 0 16 21"><g transform="translate(1.5 4.5) scale(0.96 0.93)"><path d="M4 13.6H8V8.4L12 10.2V4.6L6 0L0 4.6V10.2L4 8.4Z" fill="#66b09c" stroke="#43905f" stroke-width="1.1" stroke-linejoin="round"/><path d="M5.2 4H6.8V13H5.2Z" fill="#7dbcae" opacity="0.7"/></g></svg><div class="t r n b" style="top:3px">1,632</div></div>
<div class="c w" style="left:1215px;top:438px;width:75px;height:21px;background:#71c487"><svg class="ic" width="16" height="21" viewBox="0 0 16 21"><g transform="translate(1.5 4.5) scale(0.96 0.93)"><path d="M4 13.6H8V8.4L12 10.2V4.6L6 0L0 4.6V10.2L4 8.4Z" fill="#66b09c" stroke="#43905f" stroke-width="1.1" stroke-linejoin="round"/><path d="M5.2 4H6.8V13H5.2Z" fill="#7dbcae" opacity="0.7"/></g></svg><div class="t r n b" style="top:3px">1,555</div></div>
<div class="c w" style="left:1292px;top:438px;width:75px;height:21px;background:#78c78d"><svg class="ic" width="16" height="21" viewBox="0 0 16 21"><g transform="translate(1.5 4.5) scale(0.96 0.93)"><path d="M4 13.6H8V8.4L12 10.2V4.6L6 0L0 4.6V10.2L4 8.4Z" fill="#66b09c" stroke="#43905f" stroke-width="1.1" stroke-linejoin="round"/><path d="M5.2 4H6.8V13H5.2Z" fill="#7dbcae" opacity="0.7"/></g></svg><div class="t r n b" style="top:3px">1,516</div></div>
<div class="c w" style="left:1369px;top:438px;width:75px;height:21px;background:#9fd6af"><svg class="ic" width="16" height="21" viewBox="0 0 16 21"><g transform="translate(1.4 4.8) scale(0.93 0.93)"><path d="M0 4.1H5.4L3.6 0.9L8 0.2L13 6.5L8 12.8L3.6 12.1L5.4 8.9H0Z" fill="#f9c968" stroke="#c2973e" stroke-width="1" stroke-linejoin="round"/><path d="M0.6 5.6H10V7.2H0.6Z" fill="#fddc8c" opacity="0.7"/></g></svg><div class="t r n b" style="top:3px">1,300</div></div>
<div class="c g" style="left:1px;top:461px;width:96px;height:21px"><div class="t lft" style="top:3px;padding-left:2px">申込者比</div></div>
<div class="c g" style="left:99px;top:461px;width:78px;height:21px;background:#fcfcff"><div class="t r n" style="top:3px">17%</div></div>
<div class="c g" style="left:179px;top:461px;width:78px;height:21px;background:#d9eee1"><div class="t r n" style="top:3px">19%</div></div>
<div class="c g" style="left:259px;top:461px;width:78px;height:21px;background:#d5ecde"><div class="t r n" style="top:3px">19%</div></div>
<div class="c g" style="left:339px;top:461px;width:78px;height:21px;background:#63be7b"><div class="t r n" style="top:3px">24%</div></div>
<div class="c g" style="left:419px;top:461px;width:78px;height:21px;background:#eff7f4"><div class="t r n" style="top:3px">18%</div></div>
<div class="c g" style="left:499px;top:461px;width:78px;height:21px;background:#75c58b"><div class="t r n" style="top:3px">23%</div></div>
<div class="c g" style="left:579px;top:461px;width:77px;height:21px;background:#e4f2ea"><div class="t r n" style="top:3px">18%</div></div>
<div class="c g" style="left:658px;top:461px;width:78px;height:21px;background:#e1f1e8"><div class="t r n" style="top:3px">19%</div></div>
<div class="c g" style="left:738px;top:461px;width:78px;height:21px;background:#e0f1e7"><div class="t r n" style="top:3px">19%</div></div>
<div class="c g" style="left:818px;top:461px;width:78px;height:21px;background:#e9f4ee"><div class="t r n" style="top:3px">18%</div></div>
<div class="c g" style="left:898px;top:461px;width:78px;height:21px;background:#f5f9f9"><div class="t r n" style="top:3px">18%</div></div>
<div class="c g" style="left:978px;top:461px;width:78px;height:21px;background:#f1f8f6"><div class="t r n" style="top:3px">18%</div></div>
<div class="c g" style="left:1058px;top:461px;width:78px;height:21px;background:#fafbfd"><div class="t r n" style="top:3px">17%</div></div>
<div class="c g" style="left:1138px;top:461px;width:75px;height:21px;background:#eff7f4"><div class="t r n" style="top:3px">18%</div></div>
<div class="c g" style="left:1215px;top:461px;width:75px;height:21px;background:#ebf5f1"><div class="t r n" style="top:3px">18%</div></div>
<div class="c g" style="left:1292px;top:461px;width:75px;height:21px;background:#eef6f3"><div class="t r n" style="top:3px">18%</div></div>
<div class="c g" style="left:1369px;top:461px;width:75px;height:21px;background:#ecf5f1"><div class="t r n" style="top:3px">18.1%</div></div>
<div class="c" style="left:97px;top:207px;width:2px;height:21px;background:#f3e7d9"></div>
<div class="c" style="left:97px;top:205px;width:80px;height:2px;background:#f6e9dc"></div>
<div class="c" style="left:177px;top:207px;width:2px;height:21px;background:#f4cbbe"></div>
<div class="c" style="left:177px;top:205px;width:80px;height:2px;background:#f5d8d8"></div>
<div class="c" style="left:257px;top:207px;width:2px;height:21px;background:#f3bbbb"></div>
<div class="c" style="left:257px;top:205px;width:80px;height:2px;background:#f5d9d9"></div>
<div class="c" style="left:337px;top:207px;width:2px;height:21px;background:#f4cbbe"></div>
<div class="c" style="left:337px;top:205px;width:80px;height:2px;background:#f5e8db"></div>
<div class="c" style="left:417px;top:207px;width:2px;height:21px;background:#f5d4c0"></div>
<div class="c" style="left:417px;top:205px;width:80px;height:2px;background:#f5e2da"></div>
<div class="c" style="left:497px;top:207px;width:2px;height:21px;background:#f4d1bf"></div>
<div class="c" style="left:497px;top:205px;width:80px;height:2px;background:#f5e5db"></div>
<div class="c" style="left:577px;top:207px;width:2px;height:21px;background:#f5dac1"></div>
<div class="c" style="left:577px;top:205px;width:79px;height:2px;background:#f6ebdc"></div>
<div class="c" style="left:656px;top:207px;width:2px;height:21px;background:#f4cebf"></div>
<div class="c" style="left:656px;top:205px;width:80px;height:2px;background:#f5d9d9"></div>
<div class="c" style="left:736px;top:207px;width:2px;height:21px;background:#f4c5bd"></div>
<div class="c" style="left:736px;top:205px;width:80px;height:2px;background:#f5e2da"></div>
<div class="c" style="left:816px;top:207px;width:2px;height:21px;background:#f4d0bf"></div>
<div class="c" style="left:816px;top:205px;width:80px;height:2px;background:#f5e4db"></div>
<div class="c" style="left:896px;top:207px;width:2px;height:21px;background:#f5dfc2"></div>
<div class="c" style="left:896px;top:205px;width:80px;height:2px;background:#f6f2dd"></div>
<div class="c" style="left:976px;top:207px;width:2px;height:21px;background:#f1ecc4"></div>
<div class="c" style="left:976px;top:205px;width:80px;height:2px;background:#f1f0dd"></div>
<div class="c" style="left:1056px;top:207px;width:2px;height:21px;background:#edebc4"></div>
<div class="c" style="left:1056px;top:205px;width:80px;height:2px;background:#f2f1dd"></div>
<div class="c" style="left:1136px;top:207px;width:2px;height:21px;background:#f2eac4"></div>
<div class="c" style="left:1136px;top:205px;width:77px;height:2px;background:#f6f0dd"></div>
<div class="c" style="left:1213px;top:207px;width:2px;height:21px;background:#f6ecc4"></div>
<div class="c" style="left:1213px;top:205px;width:77px;height:2px;background:#f6f2dd"></div>
<div class="c" style="left:1290px;top:207px;width:2px;height:21px;background:#f6eac4"></div>
<div class="c" style="left:1290px;top:205px;width:77px;height:2px;background:#f6eedd"></div>
<div class="c" style="left:1367px;top:207px;width:2px;height:21px;background:#f5ddc2"></div>
<div class="c" style="left:1367px;top:205px;width:77px;height:2px;background:#f5e5db"></div>
<div class="c" style="left:1444px;top:207px;width:2px;height:21px;background:#f5e5db"></div>
<div class="c" style="left:97px;top:230px;width:2px;height:21px;background:#f2f1dd"></div>
<div class="c" style="left:97px;top:228px;width:80px;height:2px;background:#f1e4c3"></div>
<div class="c" style="left:97px;top:251px;width:80px;height:2px;background:#efeeda"></div>
<div class="c" style="left:177px;top:230px;width:2px;height:21px;background:#f1dec2"></div>
<div class="c" style="left:177px;top:228px;width:80px;height:2px;background:#f4c5bd"></div>
<div class="c" style="left:177px;top:251px;width:80px;height:2px;background:#f2e1d8"></div>
<div class="c" style="left:257px;top:230px;width:2px;height:21px;background:#f4d2bf"></div>
<div class="c" style="left:257px;top:228px;width:80px;height:2px;background:#f4c8bd"></div>
<div class="c" style="left:257px;top:251px;width:80px;height:2px;background:#f2e2d8"></div>
<div class="c" style="left:337px;top:230px;width:2px;height:21px;background:#f2e0c2"></div>
<div class="c" style="left:337px;top:228px;width:80px;height:2px;background:#f2e3c3"></div>
<div class="c" style="left:337px;top:251px;width:80px;height:2px;background:#f0eeda"></div>
<div class="c" style="left:417px;top:230px;width:2px;height:21px;background:#f2edc5"></div>
<div class="c" style="left:417px;top:228px;width:80px;height:2px;background:#f4dec2"></div>
<div class="c" style="left:417px;top:251px;width:80px;height:2px;background:#f2efdb"></div>
<div class="c" style="left:497px;top:230px;width:2px;height:21px;background:#f2edc5"></div>
<div class="c" style="left:497px;top:228px;width:80px;height:2px;background:#f2e0c2"></div>
<div class="c" style="left:497px;top:251px;width:80px;height:2px;background:#f0eeda"></div>
<div class="c" style="left:577px;top:230px;width:2px;height:21px;background:#ecebc4"></div>
<div class="c" style="left:577px;top:228px;width:79px;height:2px;background:#eee5c3"></div>
<div class="c" style="left:577px;top:251px;width:79px;height:2px;background:#ecedda"></div>
<div class="c" style="left:656px;top:230px;width:2px;height:21px;background:#eee2c3"></div>
<div class="c" style="left:656px;top:228px;width:80px;height:2px;background:#f4ccbe"></div>
<div class="c" style="left:656px;top:251px;width:80px;height:2px;background:#f3e5d9"></div>
<div class="c" style="left:736px;top:230px;width:2px;height:21px;background:#f5e4c3"></div>
<div class="c" style="left:736px;top:228px;width:80px;height:2px;background:#f4dec2"></div>
<div class="c" style="left:736px;top:251px;width:80px;height:2px;background:#f2efdb"></div>
<div class="c" style="left:816px;top:230px;width:2px;height:21px;background:#f2edc5"></div>
<div class="c" style="left:816px;top:228px;width:80px;height:2px;background:#f2dfc2"></div>
<div class="c" style="left:816px;top:251px;width:80px;height:2px;background:#f0eeda"></div>
<div class="c" style="left:896px;top:230px;width:2px;height:21px;background:#e5e9c4"></div>
<div class="c" style="left:896px;top:228px;width:80px;height:2px;background:#e9eac4"></div>
<div class="c" style="left:896px;top:251px;width:80px;height:2px;background:#e6ebda"></div>
<div class="c" style="left:976px;top:230px;width:2px;height:21px;background:#c9e1c2"></div>
<div class="c" style="left:976px;top:228px;width:80px;height:2px;background:#d1e3c3"></div>
<div class="c" style="left:976px;top:251px;width:80px;height:2px;background:#d4e6d9"></div>
<div class="c" style="left:1056px;top:230px;width:2px;height:21px;background:#c1dfc2"></div>
<div class="c" style="left:1056px;top:228px;width:80px;height:2px;background:#dce6c3"></div>
<div class="c" style="left:1056px;top:251px;width:80px;height:2px;background:#dde9d9"></div>
<div class="c" style="left:1136px;top:230px;width:2px;height:21px;background:#d4e4c3"></div>
<div class="c" style="left:1136px;top:228px;width:77px;height:2px;background:#eae8c4"></div>
<div class="c" style="left:1136px;top:251px;width:77px;height:2px;background:#e8ecda"></div>
<div class="c" style="left:1213px;top:230px;width:2px;height:21px;background:#dee7c3"></div>
<div class="c" style="left:1213px;top:228px;width:77px;height:2px;background:#e9eac4"></div>
<div class="c" style="left:1213px;top:251px;width:77px;height:2px;background:#e7ecda"></div>
<div class="c" style="left:1290px;top:230px;width:2px;height:21px;background:#e0e8c3"></div>
<div class="c" style="left:1290px;top:228px;width:77px;height:2px;background:#ece8c3"></div>
<div class="c" style="left:1290px;top:251px;width:77px;height:2px;background:#eaedda"></div>
<div class="c" style="left:1367px;top:230px;width:2px;height:21px;background:#e9eac4"></div>
<div class="c" style="left:1367px;top:228px;width:77px;height:2px;background:#f2e0c2"></div>
<div class="c" style="left:1367px;top:251px;width:77px;height:2px;background:#efeeda"></div>
<div class="c" style="left:1444px;top:230px;width:2px;height:21px;background:#f2f1dd"></div>
<div class="c" style="left:97px;top:438px;width:2px;height:21px;background:#f0f3f1"></div>
<div class="c" style="left:97px;top:436px;width:80px;height:2px;background:#edf0ee"></div>
<div class="c" style="left:177px;top:438px;width:2px;height:21px;background:#eaf0ed"></div>
<div class="c" style="left:177px;top:436px;width:80px;height:2px;background:#eef1ef"></div>
<div class="c" style="left:257px;top:438px;width:2px;height:21px;background:#f0f3f2"></div>
<div class="c" style="left:257px;top:436px;width:80px;height:2px;background:#f3f3f3"></div>
<div class="c" style="left:337px;top:438px;width:2px;height:21px;background:#e5eee9"></div>
<div class="c" style="left:337px;top:436px;width:80px;height:2px;background:#e3ece6"></div>
<div class="c" style="left:417px;top:438px;width:2px;height:21px;background:#e1ede5"></div>
<div class="c" style="left:417px;top:436px;width:80px;height:2px;background:#eef1ef"></div>
<div class="c" style="left:497px;top:438px;width:2px;height:21px;background:#e2ede6"></div>
<div class="c" style="left:497px;top:436px;width:80px;height:2px;background:#e4ede7"></div>
<div class="c" style="left:577px;top:438px;width:2px;height:21px;background:#e1ede5"></div>
<div class="c" style="left:577px;top:436px;width:79px;height:2px;background:#edf0ee"></div>
<div class="c" style="left:656px;top:438px;width:2px;height:21px;background:#edf2f0"></div>
<div class="c" style="left:656px;top:436px;width:80px;height:2px;background:#f1f2f2"></div>
<div class="c" style="left:736px;top:438px;width:2px;height:21px;background:#f2f3f3"></div>
<div class="c" style="left:736px;top:436px;width:80px;height:2px;background:#f1f2f2"></div>
<div class="c" style="left:816px;top:438px;width:2px;height:21px;background:#eff2f1"></div>
<div class="c" style="left:816px;top:436px;width:80px;height:2px;background:#eef1f0"></div>
<div class="c" style="left:896px;top:438px;width:2px;height:21px;background:#e6efe9"></div>
<div class="c" style="left:896px;top:436px;width:80px;height:2px;background:#e8eeea"></div>
<div class="c" style="left:976px;top:438px;width:2px;height:21px;background:#dcebe1"></div>
<div class="c" style="left:976px;top:436px;width:80px;height:2px;background:#e5ede7"></div>
<div class="c" style="left:1056px;top:438px;width:2px;height:21px;background:#c9e3d1"></div>
<div class="c" style="left:1056px;top:436px;width:80px;height:2px;background:#d5e7da"></div>
<div class="c" style="left:1136px;top:438px;width:2px;height:21px;background:#b9dcc2"></div>
<div class="c" style="left:1136px;top:436px;width:77px;height:2px;background:#d4e6d9"></div>
<div class="c" style="left:1213px;top:438px;width:2px;height:21px;background:#baddc4"></div>
<div class="c" style="left:1213px;top:436px;width:77px;height:2px;background:#d7e7db"></div>
<div class="c" style="left:1290px;top:438px;width:2px;height:21px;background:#bfdfc7"></div>
<div class="c" style="left:1290px;top:436px;width:77px;height:2px;background:#d8e8dc"></div>
<div class="c" style="left:1367px;top:438px;width:2px;height:21px;background:#c8e3cf"></div>
<div class="c" style="left:1367px;top:436px;width:77px;height:2px;background:#e0ebe3"></div>
<div class="c" style="left:1444px;top:438px;width:2px;height:21px;background:#e3eee6"></div>
<div class="c" style="left:97px;top:461px;width:2px;height:21px;background:#f3f3f3"></div>
<div class="c" style="left:97px;top:459px;width:80px;height:2px;background:#eff2f1"></div>
<div class="c" style="left:97px;top:482px;width:80px;height:2px;background:#f5f5f6"></div>
<div class="c" style="left:177px;top:461px;width:2px;height:21px;background:#eef2f0"></div>
<div class="c" style="left:177px;top:459px;width:80px;height:2px;background:#e9f0ec"></div>
<div class="c" style="left:177px;top:482px;width:80px;height:2px;background:#e7efea"></div>
<div class="c" style="left:257px;top:461px;width:2px;height:21px;background:#e6efe9"></div>
<div class="c" style="left:257px;top:459px;width:80px;height:2px;background:#edf2ef"></div>
<div class="c" style="left:257px;top:482px;width:80px;height:2px;background:#e5eee9"></div>
<div class="c" style="left:337px;top:461px;width:2px;height:21px;background:#cee5d5"></div>
<div class="c" style="left:337px;top:459px;width:80px;height:2px;background:#c7e2ce"></div>
<div class="c" style="left:337px;top:482px;width:80px;height:2px;background:#b8dcc1"></div>
<div class="c" style="left:417px;top:461px;width:2px;height:21px;background:#d4e7d9"></div>
<div class="c" style="left:417px;top:459px;width:80px;height:2px;background:#eef2f0"></div>
<div class="c" style="left:417px;top:482px;width:80px;height:2px;background:#f0f3f2"></div>
<div class="c" style="left:497px;top:461px;width:2px;height:21px;background:#d7e9dd"></div>
<div class="c" style="left:497px;top:459px;width:80px;height:2px;background:#cbe4d2"></div>
<div class="c" style="left:497px;top:482px;width:80px;height:2px;background:#bfdfc8"></div>
<div class="c" style="left:577px;top:461px;width:2px;height:21px;background:#d5e8db"></div>
<div class="c" style="left:577px;top:459px;width:79px;height:2px;background:#eaf1ed"></div>
<div class="c" style="left:577px;top:482px;width:79px;height:2px;background:#ebf1ee"></div>
<div class="c" style="left:656px;top:461px;width:2px;height:21px;background:#ebf1ed"></div>
<div class="c" style="left:656px;top:459px;width:80px;height:2px;background:#eef2f0"></div>
<div class="c" style="left:656px;top:482px;width:80px;height:2px;background:#eaf0ed"></div>
<div class="c" style="left:736px;top:461px;width:2px;height:21px;background:#eaf0ed"></div>
<div class="c" style="left:736px;top:459px;width:80px;height:2px;background:#eef2f0"></div>
<div class="c" style="left:736px;top:482px;width:80px;height:2px;background:#eaf0ec"></div>
<div class="c" style="left:816px;top:461px;width:2px;height:21px;background:#ebf1ee"></div>
<div class="c" style="left:816px;top:459px;width:80px;height:2px;background:#edf1ef"></div>
<div class="c" style="left:816px;top:482px;width:80px;height:2px;background:#edf2ef"></div>
<div class="c" style="left:896px;top:461px;width:2px;height:21px;background:#f0f3f1"></div>
<div class="c" style="left:896px;top:459px;width:80px;height:2px;background:#e9f0eb"></div>
<div class="c" style="left:896px;top:482px;width:80px;height:2px;background:#f2f4f4"></div>
<div class="c" style="left:976px;top:461px;width:2px;height:21px;background:#f1f3f3"></div>
<div class="c" style="left:976px;top:459px;width:80px;height:2px;background:#e5eee8"></div>
<div class="c" style="left:976px;top:482px;width:80px;height:2px;background:#f0f3f2"></div>
<div class="c" style="left:1056px;top:461px;width:2px;height:21px;background:#f2f4f4"></div>
<div class="c" style="left:1056px;top:459px;width:80px;height:2px;background:#d7e9dc"></div>
<div class="c" style="left:1056px;top:482px;width:80px;height:2px;background:#f4f4f5"></div>
<div class="c" style="left:1136px;top:461px;width:2px;height:21px;background:#f2f4f3"></div>
<div class="c" style="left:1136px;top:459px;width:77px;height:2px;background:#d4e7d9"></div>
<div class="c" style="left:1136px;top:482px;width:77px;height:2px;background:#f0f3f2"></div>
<div class="c" style="left:1213px;top:461px;width:2px;height:21px;background:#eff2f1"></div>
<div class="c" style="left:1213px;top:459px;width:77px;height:2px;background:#d6e8db"></div>
<div class="c" style="left:1213px;top:482px;width:77px;height:2px;background:#eef2f0"></div>
<div class="c" style="left:1290px;top:461px;width:2px;height:21px;background:#eff2f1"></div>
<div class="c" style="left:1290px;top:459px;width:77px;height:2px;background:#d8e9dd"></div>
<div class="c" style="left:1290px;top:482px;width:77px;height:2px;background:#eff2f1"></div>
<div class="c" style="left:1367px;top:461px;width:2px;height:21px;background:#eff2f1"></div>
<div class="c" style="left:1367px;top:459px;width:77px;height:2px;background:#dfece3"></div>
<div class="c" style="left:1367px;top:482px;width:77px;height:2px;background:#eef2f0"></div>
<div class="c" style="left:1444px;top:461px;width:2px;height:21px;background:#f2f4f3"></div>
<div class="c w" style="left:1446px;top:0;width:2px;height:484px"></div>
</body></html>
